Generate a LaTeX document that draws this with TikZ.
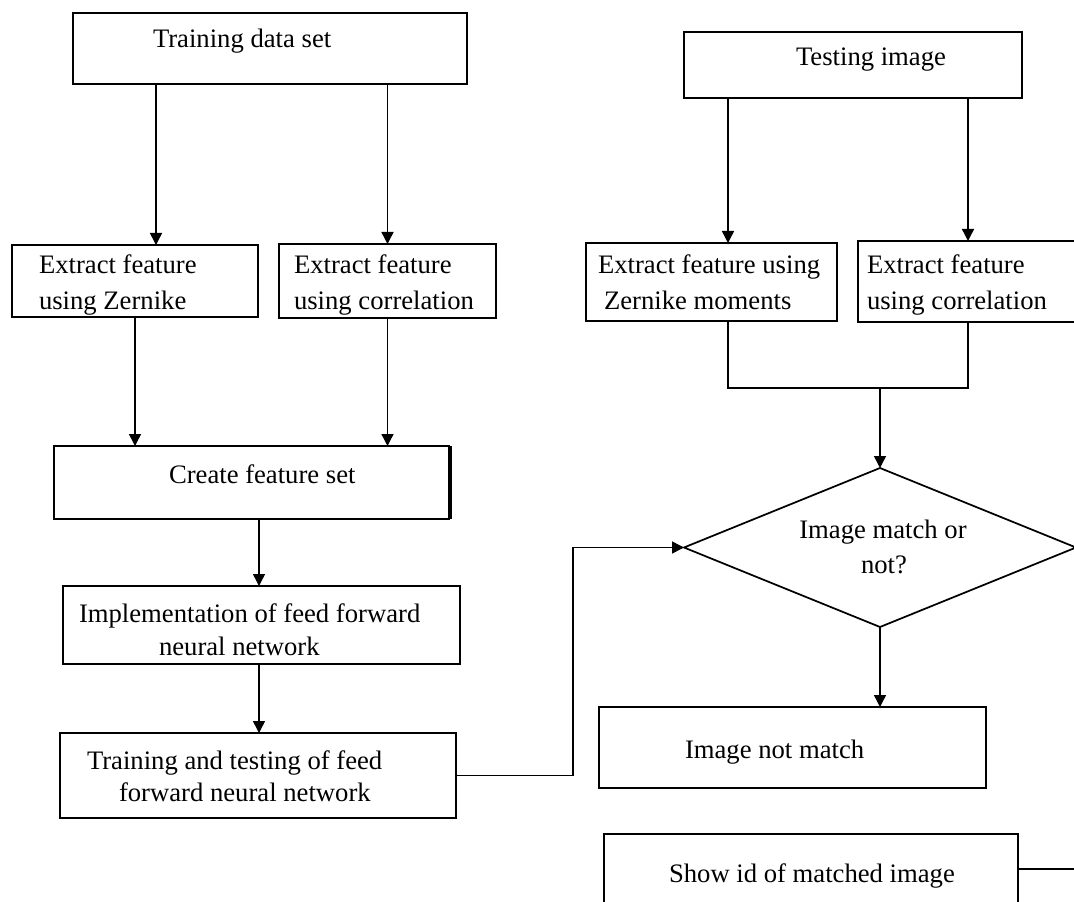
\documentclass[tikz,border=0pt]{standalone}
\usepackage{fontspec}
\setmainfont{Liberation Serif}
\usetikzlibrary{arrows.meta,shapes.geometric,fit}
\begin{document}
\begin{tikzpicture}[x=0.75pt,y=-0.75pt,
  box/.style={draw,line width=1.5pt,inner sep=0pt,outer sep=0pt},
  txt/.style={font=\fontsize{20}{24}\selectfont,inner sep=0pt,outer sep=0pt},
  conn/.style={line width=1.1pt},
  arr/.style={conn,-{Triangle[length=9pt,width=9pt]}}]
\path[use as bounding box] (0,0) rectangle (1074,902);
\clip (0,0) rectangle (1074,902);

% helper x positions
\coordinate (xa) at (156,0);
\coordinate (xb) at (259,0);
\coordinate (xc) at (728,0);
\coordinate (xd) at (968,0);
\coordinate (xf) at (573,0);
\coordinate (m) at (880,388);
\coordinate (sh) at (1074,869);

% left column
\node[box,fit={(73,13)(467,84)}] (train) {};
\node[txt,anchor=base west] (traint) at (153,48) {Training data set};

\node[box,fit={(12,245)(258,317)}] (lz) {};
\node[txt,anchor=base west] (lz1) at (39,273) {Extract feature};
\node[txt,anchor=base west] (lz2) at (39,309) {using Zernike};

\node[box,fit={(279,244)(496,318)}] (lc) {};
\node[txt,anchor=base west] (lc1) at (294,273) {Extract feature};
\node[txt,anchor=base west] (lc2) at (294,309) {using correlation};

\node[box,fit={(54,446)(449,519)}] (create) {};
\node[txt,anchor=base west] (createt) at (169,483) {Create feature set};

\node[box,fit={(63,586)(460,664)}] (impl) {};
\node[txt,anchor=base west] (impl1) at (79,622) {Implementation of feed forward};
\node[txt,anchor=base west] (impl2) at (159,655) {neural network};

\node[box,fit={(60,733)(456,818)}] (tt) {};
\node[txt,anchor=base west] (tt1) at (87,769) {Training and testing of feed};
\node[txt,anchor=base west] (tt2) at (119,801) {forward neural network};

% right column
\node[box,fit={(684,32)(1022,98)}] (test) {};
\node[txt,anchor=base west] (testt) at (796,66) {Testing image};

\node[box,fit={(586,243)(837,321)}] (rz) {};
\node[txt,anchor=base west] (rz1) at (598,273) {Extract feature using};
\node[txt,anchor=base west] (rz2) at (604,309) {Zernike moments};

\node[box,fit={(858,241)(1095,322)}] (rc) {};
\node[txt,anchor=base west] (rc1) at (867,273) {Extract feature};
\node[txt,anchor=base west] (rc2) at (867,309) {using correlation};

\node[draw,diamond,line width=1.3pt,inner sep=0pt,outer sep=0pt,aspect=2.5,
      minimum width=294pt,minimum height=119.25pt] (dia) at (880,547.5) {};
\node[txt,anchor=base] (dia1) at (883,538) {Image match or};
\node[txt,anchor=base] (dia2) at (884,573) {not?};

\node[box,fit={(599,707)(986,788)}] (nm) {};
\node[txt,anchor=base west] (nmt) at (685,758) {Image not match};

\node[box,fit={(604,834)(1018,950)}] (show) {};
\node[txt,anchor=base west] (showt) at (669,882) {Show id of matched image};

% extra right edge of "Create feature set"
\draw[line width=1.2pt] ([xshift=1.4pt]create.north east) -- ([xshift=1.4pt]create.south east);

% connectors
\draw[arr] (train.south -| xa) -- (lz.north -| xa);
\draw[arr] (train.south -| lc.north) -- (lc.north);
\draw[arr] (lz.south) -- (create.north -| lz.south);
\draw[arr] (lc.south) -- (create.north -| lc.south);
\draw[arr] (create.south -| xb) -- (impl.north -| xb);
\draw[arr] (impl.south -| xb) -- (tt.north -| xb);
\draw[arr] (tt.east) -- (tt.east -| xf) -- (xf |- dia.west) -- (dia.west);

\draw[arr] (test.south -| xc) -- (rz.north -| xc);
\draw[arr] (test.south -| xd) -- (rc.north -| xd);
\draw[conn] (rz.south -| xc) |- (m) -| (rc.south -| xd);
\draw[arr] (m) -- (dia.north);
\draw[arr] (dia.south) -- (nm.north -| dia.south);
\draw[conn] (sh -| show.east) -- (sh);
\end{tikzpicture}
\end{document}
